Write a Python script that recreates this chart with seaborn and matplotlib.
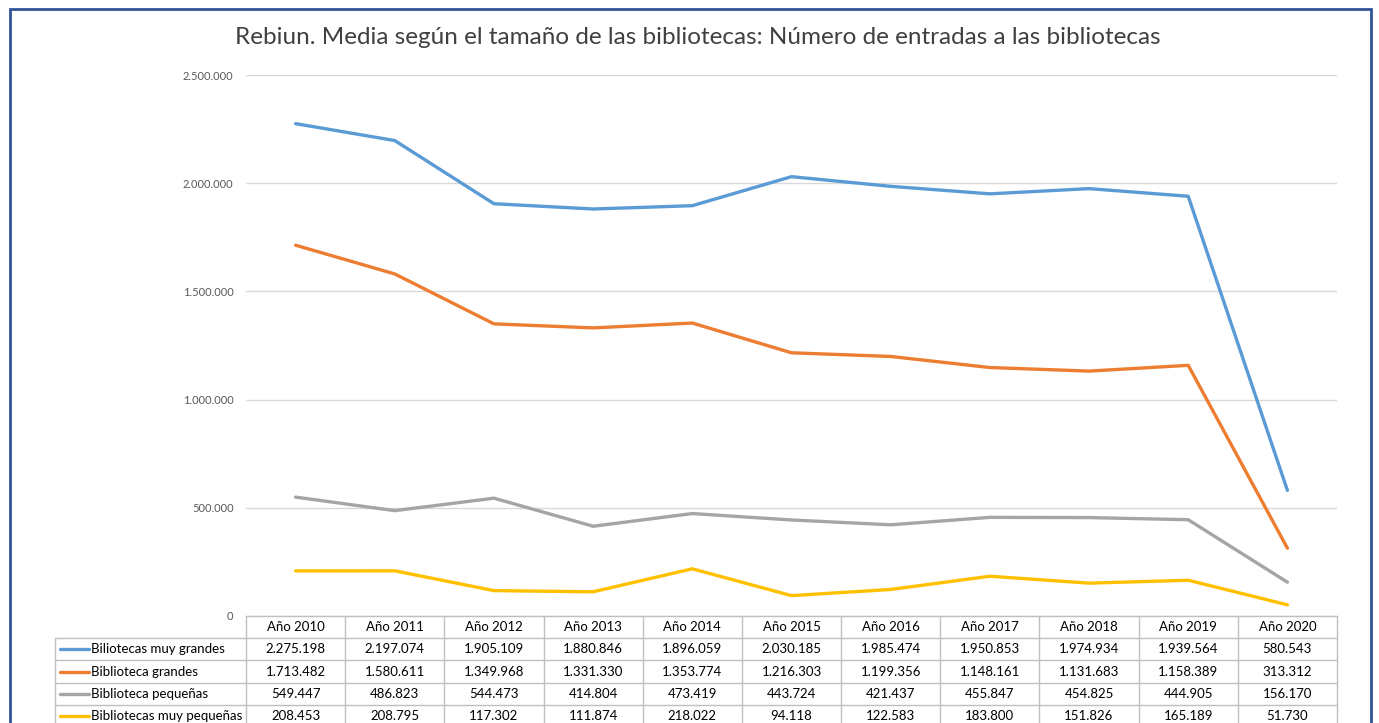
import pandas as pd
import matplotlib.pyplot as plt
import seaborn as sns
from matplotlib.lines import Line2D
from matplotlib.patches import Rectangle
from matplotlib.ticker import FuncFormatter

anios = ['Año 2010', 'Año 2011', 'Año 2012', 'Año 2013', 'Año 2014', 'Año 2015',
         'Año 2016', 'Año 2017', 'Año 2018', 'Año 2019', 'Año 2020']
muy_grandes = [2275198, 2197074, 1905109, 1880846, 1896059, 2030185,
               1985474, 1950853, 1974934, 1939564, 580543]
grandes = [1713482, 1580611, 1349968, 1331330, 1353774, 1216303,
           1199356, 1148161, 1131683, 1158389, 313312]
pequenas = [549447, 486823, 544473, 414804, 473419, 443724,
            421437, 455847, 454825, 444905, 156170]
muy_pequenas = [208453, 208795, 117302, 111874, 218022, 94118,
                122583, 183800, 151826, 165189, 51730]
series = ['Biliotecas muy grandes', 'Biblioteca grandes',
          'Biblioteca pequeñas', 'Bibliotecas muy pequeñas']
valores = [muy_grandes, grandes, pequenas, muy_pequenas]
colores = ['#5B9BD5', '#ED7D31', '#A5A5A5', '#FFC000']

sns.set_style('white')
plt.rcParams['font.family'] = ['Lato', 'DejaVu Sans']

filas = []
for s, vals in zip(series, valores):
    for i, v in enumerate(vals):
        filas.append({'idx': i, 'valor': v, 'serie': s})
df = pd.DataFrame(filas)

W, H = 1379, 723
fig = plt.figure(figsize=(W / 100, H / 100), dpi=100)
ax = fig.add_axes([246 / W, (H - 616) / H, 1091 / W, 541 / H])

sns.lineplot(data=df, x='idx', y='valor', hue='serie', palette=dict(zip(series, colores)),
             linewidth=2.4, legend=False, ax=ax, solid_capstyle='round')

ax.set_xlim(-0.5, len(anios) - 0.5)
ax.set_ylim(0, 2500000)
ax.set_yticks(range(0, 2500001, 500000))
ax.yaxis.set_major_formatter(FuncFormatter(lambda v, p: f'{int(v):,}'.replace(',', '.')))
ax.tick_params(axis='y', length=0, pad=9, labelsize=8, labelcolor='#595959')
ax.set_xticks([])
ax.set_xlabel('')
ax.set_ylabel('')
ax.grid(axis='y', color='#D9D9D9', linewidth=1)
ax.set_axisbelow(True)
for sp in ax.spines.values():
    sp.set_visible(False)

# titulo
fig.text(698 / W, 1 - 38 / H, 'Rebiun. Media según el tamaño de las bibliotecas: Número de entradas a las bibliotecas',
         ha='center', va='center', fontsize=17.5, color='#404040')

# tabla de datos bajo el grafico
def fy(ypx):
    return 1 - ypx / H

def fx(xpx):
    return xpx / W

gris = '#BFBFBF'
trans = ax.get_xaxis_transform()
fila_h = 22.2
y_top = 616
filas_y = [y_top + k * fila_h for k in range(6)]

# cabecera
for i, a in enumerate(anios):
    ax.text(i, (616 - (y_top + fila_h / 2)) / 541, a, transform=trans, ha='center', va='center',
            fontsize=9.5, color='black', clip_on=False)
# lineas horizontales
ax.add_line(Line2D([-0.5, len(anios) - 0.5], [0, 0], transform=trans, color=gris, lw=1, clip_on=False))
for k in range(1, 6):
    y = fy(filas_y[k])
    fig.add_artist(Line2D([fx(55), fx(1337)], [y, y], color=gris, lw=1))
# lineas verticales
for i in range(len(anios) + 1):
    ax.add_line(Line2D([i - 0.5, i - 0.5], [0, (616 - 740) / 541], transform=trans,
                       color=gris, lw=1, clip_on=False))
fig.add_artist(Line2D([fx(55), fx(55)], [fy(filas_y[1]), fy(740)], color=gris, lw=1))

for r, (s, vals, c) in enumerate(zip(series, valores, colores)):
    yc = (616 - (filas_y[r + 1] + fila_h / 2)) / 541
    fig.add_artist(Line2D([fx(60), fx(89)], [fy(filas_y[r + 1] + fila_h / 2)] * 2, color=c, lw=2.4))
    fig.text(fx(91), fy(filas_y[r + 1] + fila_h / 2), s, ha='left', va='center', fontsize=9.5, color='black')
    for i, v in enumerate(vals):
        ax.text(i, yc, f'{v:,}'.replace(',', '.'), transform=trans, ha='center', va='center',
                fontsize=9.5, color='black', clip_on=False)

# marco del grafico
fig.add_artist(Rectangle((fx(10), fy(760)), fx(1361), fy(9) - fy(760), fill=False,
                         edgecolor='#2F5597', linewidth=2))

fig.savefig('out.png', dpi=100)
